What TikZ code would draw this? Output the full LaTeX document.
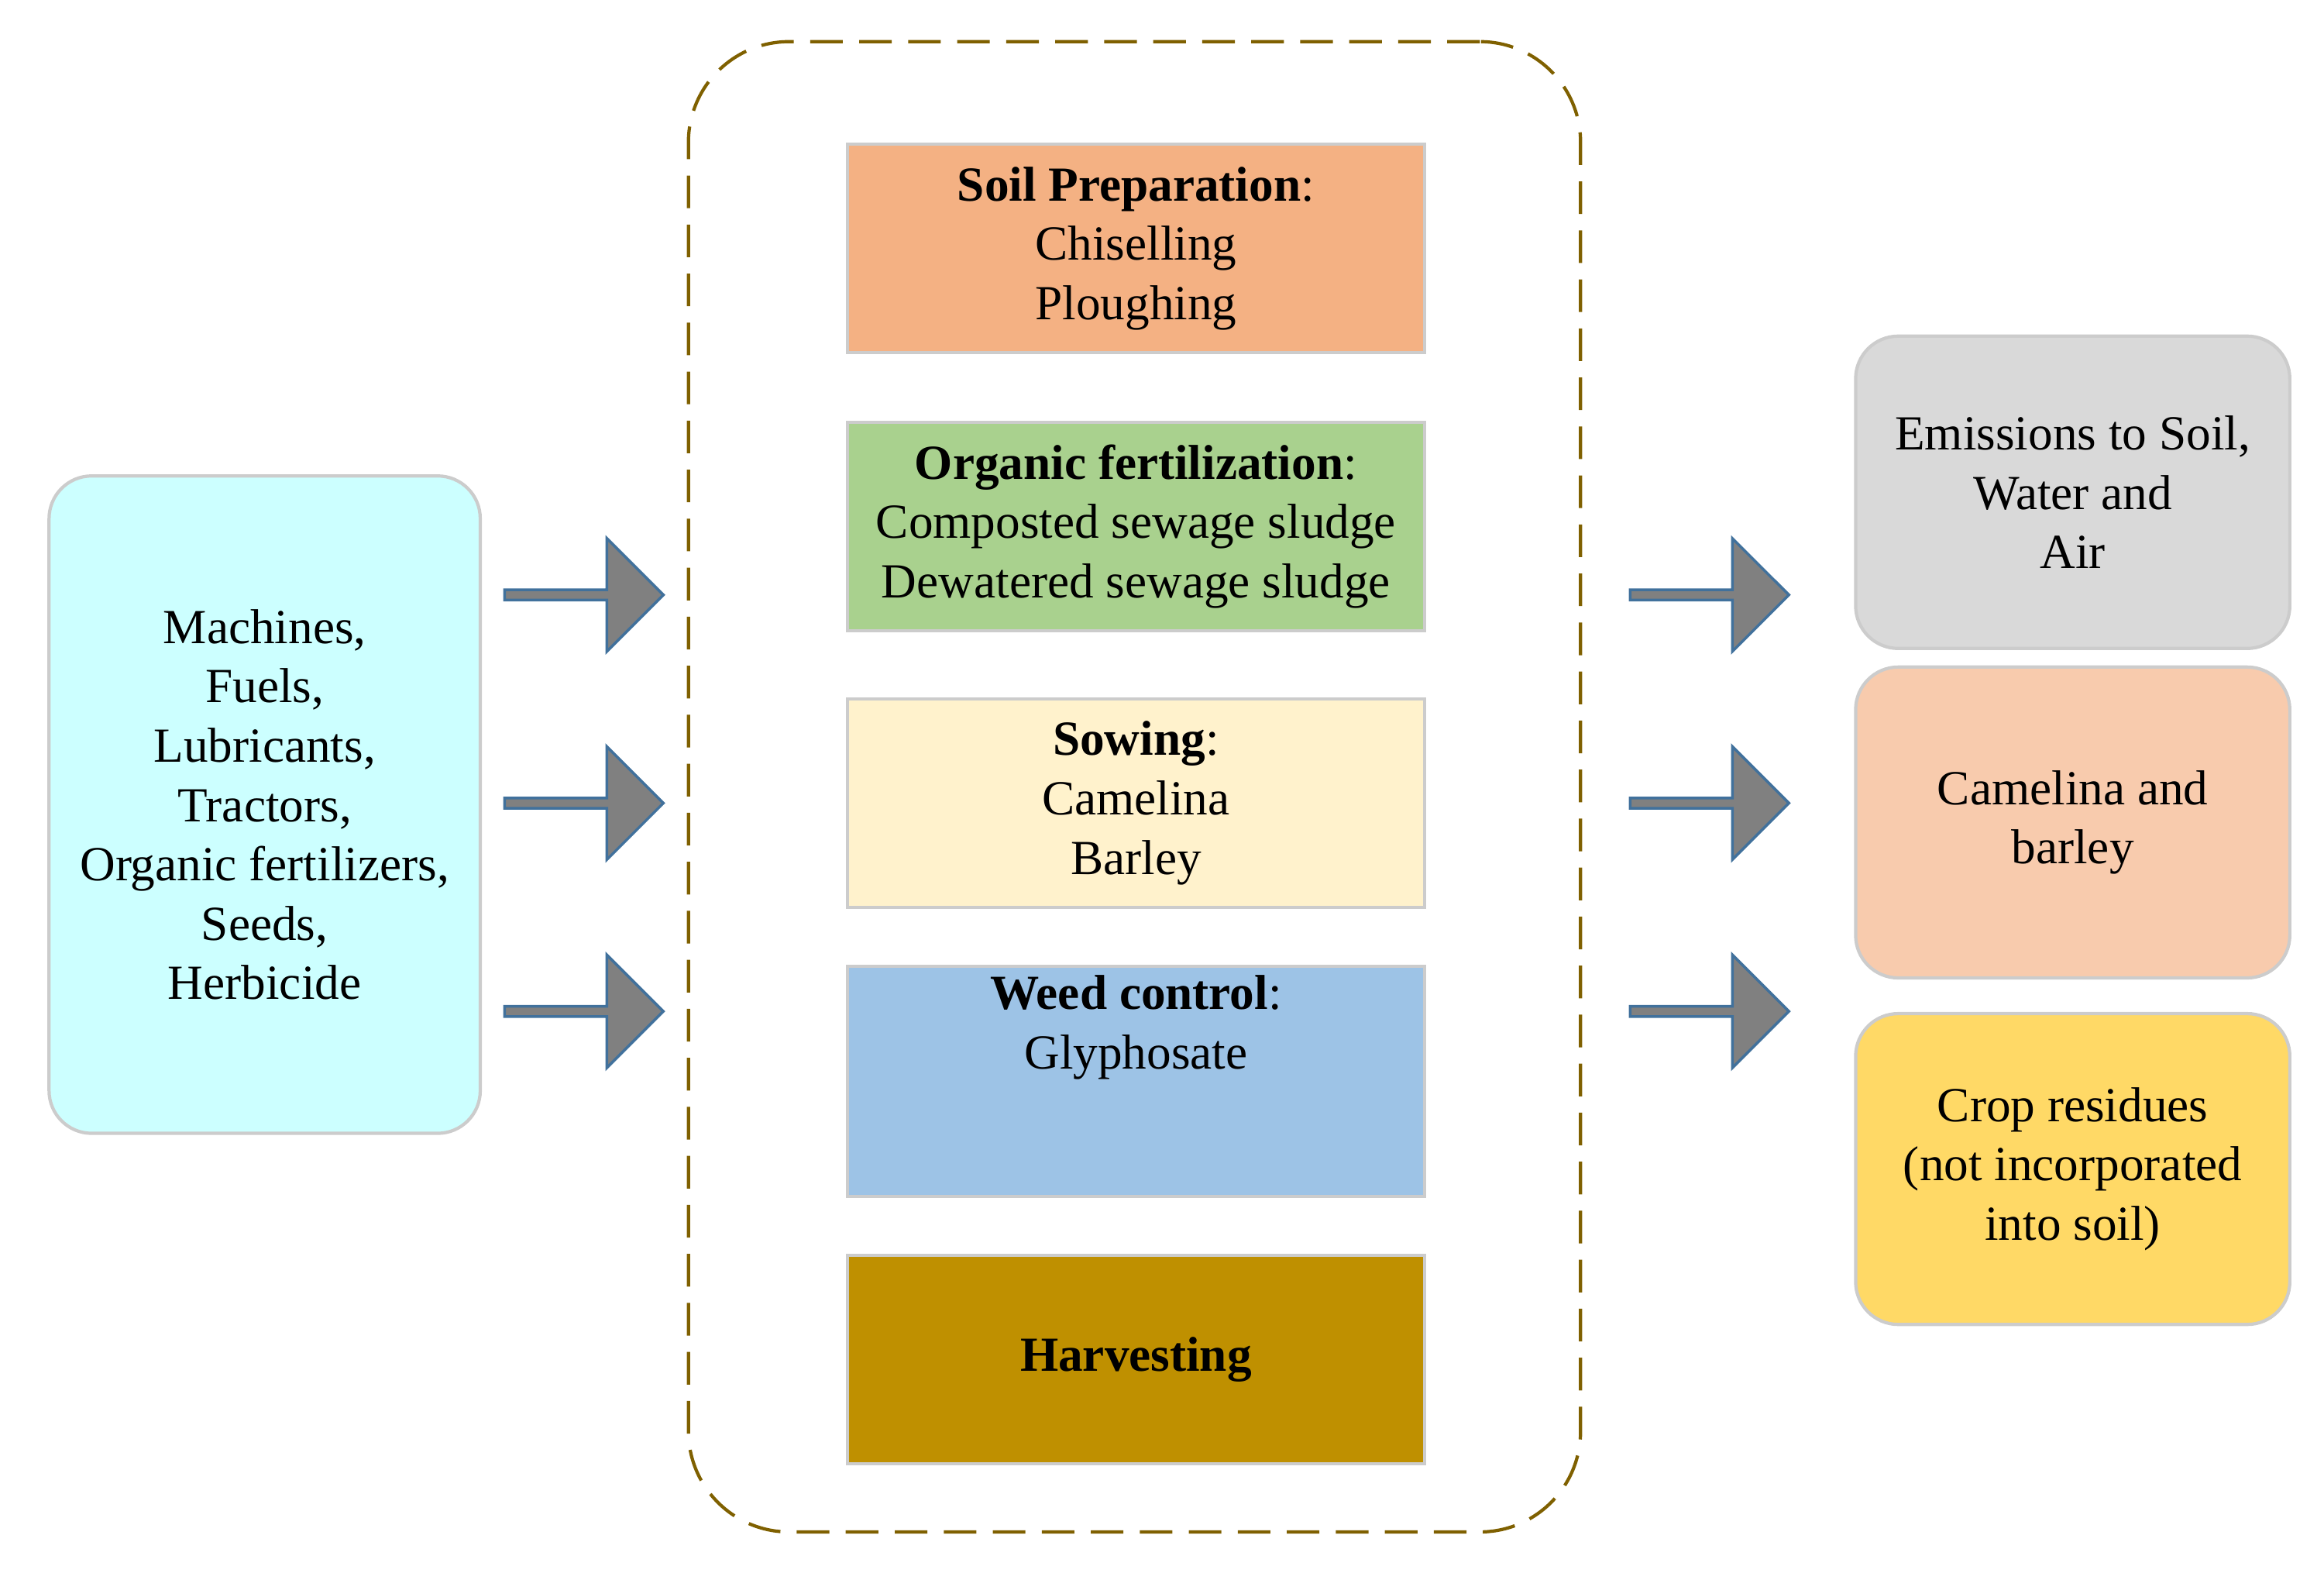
\documentclass[tikz,border=0pt]{standalone}
\usepackage{fontspec}
\setmainfont{Liberation Serif}
\usetikzlibrary{shapes.arrows}
\definecolor{cyanbox}{HTML}{CCFFFF}
\definecolor{soil}{HTML}{F4B183}
\definecolor{org}{HTML}{A9D18E}
\definecolor{sow}{HTML}{FFF2CC}
\definecolor{weed}{HTML}{9DC3E6}
\definecolor{harv}{HTML}{BF9000}
\definecolor{emis}{HTML}{D9D9D9}
\definecolor{cam}{HTML}{F8CBAD}
\definecolor{crop}{HTML}{FFD966}
\definecolor{olive}{HTML}{7F6000}
\definecolor{arrb}{HTML}{41719C}
\begin{document}
\begin{tikzpicture}[x=0.01919cm,y=-0.01919cm,
  txt/.style={font=\fontsize{18}{21.8}\selectfont,align=center},
  stage/.style={draw=black!20,line width=1.2pt,txt,minimum width=388*0.01919cm,minimum height=140*0.01919cm},
  rbox/.style={draw=black!20,line width=1.2pt,rounded corners=0.55cm,txt},
  bigarr/.style={single arrow,draw=arrb,fill=black!50,line width=1pt,minimum width=1.46cm,single arrow head extend=0.25cm,minimum height=2.05cm,inner sep=0pt,shape border uses incircle}]
\useasboundingbox (0,0) rectangle (1563,1062);
\node[rbox,fill=cyanbox,minimum width=290*0.01919cm,minimum height=442*0.01919cm] (in) at (178,541) {Machines,\\Fuels,\\Lubricants,\\Tractors,\\Organic fertilizers,\\Seeds,\\Herbicide};
\node[draw=olive,line width=1.2pt,dash pattern=on 12pt off 6pt,rounded corners=1.3cm,minimum width=600*0.01919cm,minimum height=1002*0.01919cm] (box) at (763,529) {};
\node[stage,fill=soil] (s1) at (764,167) {\textbf{Soil Preparation}:\\Chiselling\\Ploughing};
\node[stage,fill=org] (s2) at (764,354) {\textbf{Organic fertilization}:\\Composted sewage sludge\\Dewatered sewage sludge};
\node[stage,fill=sow] (s3) at (764,540) {\textbf{Sowing}:\\Camelina\\Barley};
\node[stage,fill=weed] (s4) at (764,727) {\textbf{Weed control}:\\Glyphosate\\[21.8pt]};
\node[stage,fill=harv] (s5) at (764,914) {\textbf{Harvesting}};
\node[rbox,fill=emis,minimum width=292*0.01919cm,minimum height=210*0.01919cm] (o1) at (1394,331) {Emissions to Soil,\\Water and\\Air};
\node[rbox,fill=cam,minimum width=292*0.01919cm,minimum height=209*0.01919cm] (o2) at (1394,553) {Camelina and\\barley};
\node[rbox,fill=crop,minimum width=292*0.01919cm,minimum height=209*0.01919cm] (o3) at (1394,786) {Crop residues\\(not incorporated\\into soil)};
\foreach \y/\n in {400/a,540/b,680/c}{
  \node[bigarr] (l\n) at (391,\y) {};
  \node[bigarr] (r\n) at (1148,\y) {};
}
\end{tikzpicture}
\end{document}
